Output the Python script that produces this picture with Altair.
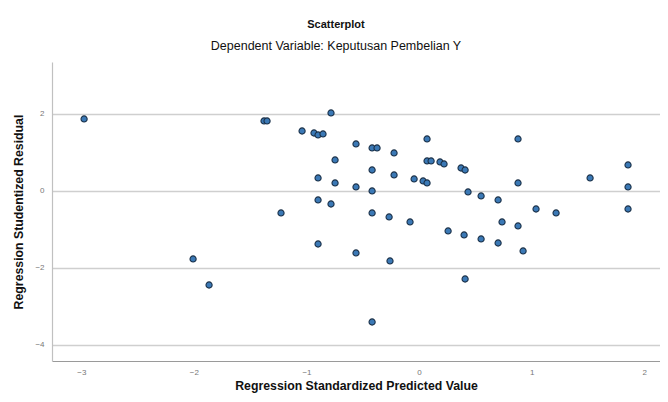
import altair as alt
import pandas as pd

# Regression Standardized Predicted Value (x) and Studentized Residual (y)
pred = [-2.975, -1.377, -1.350, -1.039, -0.933, -0.897, -0.853, -0.782, -0.560, -0.417,
        -0.373, -0.222, -0.746, -0.417, -0.222, -0.897, -0.746, -0.560, -0.417, -0.897,
        -0.782, -1.226, -0.417, -0.266, -0.080, 0.071, 0.879, 0.071, 0.107, 0.186,
        0.222, 0.373, 0.409, -0.044, 0.036, 0.071, 0.879, 0.435, 0.551, 0.702,
        1.039, 1.217, 1.519, 1.856, 1.856, 1.856, 0.737, 0.879, 0.258, 0.400,
        0.551, 0.702, 0.924, 0.409, -0.897, -0.560, -0.258, -0.417, -2.007, -1.865]
resid = [1.870, 1.818, 1.818, 1.558, 1.506, 1.455, 1.481, 2.026, 1.221, 1.117,
         1.117, 0.987, 0.805, 0.545, 0.416, 0.338, 0.208, 0.104, 0.000, -0.234,
         -0.338, -0.571, -0.571, -0.675, -0.805, 1.351, 1.351, 0.779, 0.779, 0.753,
         0.701, 0.597, 0.545, 0.312, 0.260, 0.208, 0.208, -0.026, -0.130, -0.234,
         -0.468, -0.571, 0.338, 0.675, 0.104, -0.468, -0.805, -0.909, -1.039, -1.143,
         -1.247, -1.351, -1.558, -2.286, -1.377, -1.610, -1.818, -3.403, -1.766, -2.442]

x_ticks = [-3, -2, -1, 0, 1, 2]
y_ticks = [-4, -2, 0, 2]

df = pd.DataFrame({"pred": pred, "resid": resid})

FONT = "Liberation Sans"

chart = (
    alt.Chart(df)
    .mark_circle(size=38, opacity=1, fill="#3b79b6", stroke="#1a3048", strokeWidth=1.1)
    .encode(
        x=alt.X(
            "pred:Q",
            scale=alt.Scale(domain=[-3.26, 2.14], nice=False, zero=False),
            axis=alt.Axis(
                title="Regression Standardized Predicted Value",
                values=x_ticks, format="d", grid=False, ticks=False,
                labelFontSize=8, labelColor="#777777", labelPadding=7,
                labelFont=FONT,
                domainColor="#9a9a9a", domainWidth=1.2,
                titleFont=FONT, titleFontSize=12.3, titleFontWeight="bold",
                titleColor="#111111", titleY=24, titleBaseline="middle",
            ),
        ),
        y=alt.Y(
            "resid:Q",
            scale=alt.Scale(domain=[-4.416, 3.35], nice=False, zero=False),
            axis=alt.Axis(
                title="Regression Studentized Residual",
                values=y_ticks, format="d", grid=True, gridColor="#cfcfcf",
                gridWidth=1.3, ticks=False,
                labelFontSize=8, labelColor="#777777", labelPadding=8,
                labelFont=FONT,
                domainColor="#c0c0c0", domainWidth=1.2,
                titleFont=FONT, titleFontSize=12.3, titleFontWeight="bold",
                titleColor="#111111", titleX=-34, titleY=149.5,
                titleAngle=270, titleBaseline="middle", titleAlign="center",
            ),
        ),
    )
    .properties(
        width=608,
        height=299,
        autosize=alt.AutoSizeParams(type="none"),
        padding={"left": 44, "top": 54, "right": 0, "bottom": 33},
        title=alt.TitleParams(
            text="Scatterplot",
            subtitle="Dependent Variable: Keputusan Pembelian Y",
            anchor="middle", frame="bounds",
            font=FONT, fontSize=11, fontWeight="bold", color="#111111",
            subtitleFont=FONT, subtitleFontSize=12.5, subtitleColor="#111111",
            offset=10, subtitlePadding=10,
        ),
    )
    .configure_view(stroke=None)
)

chart.save("out.html", embed_options={"renderer": "svg", "actions": False})
